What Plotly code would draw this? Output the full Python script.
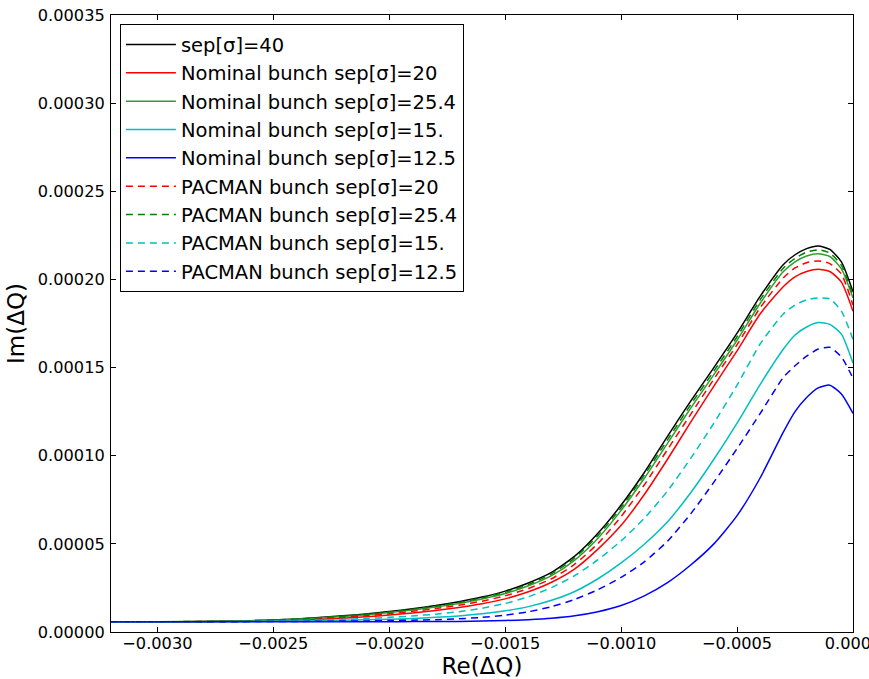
import plotly.graph_objects as go

# x positions (Re(ΔQ))
re_dq = [-0.0032, -0.0030, -0.0028, -0.0026, -0.0024, -0.0022, -0.0021, -0.0020,
         -0.0019, -0.0018, -0.0017, -0.0016, -0.0015, -0.0014, -0.0013, -0.0012,
         -0.0011, -0.0010, -0.0009, -0.0008, -0.0007, -0.0006, -0.0005, -0.0004,
         -0.0003, -0.00025, -0.0002, -0.00015, -0.0001, -0.00005, 0.0]

# Im(ΔQ) values in units of 1e-5
sep40 = [0.58, 0.58, 0.60, 0.64, 0.74, 0.92, 1.02, 1.16, 1.32, 1.50, 1.72, 1.98, 2.32,
         2.78, 3.38, 4.30, 5.60, 7.20, 9.05, 11.1, 13.1, 15.0, 16.95, 19.05, 20.85,
         21.4, 21.75, 21.9, 21.7, 21.0, 19.3]
nom_20 = [0.58, 0.58, 0.59, 0.61, 0.67, 0.78, 0.86, 0.96, 1.08, 1.22, 1.39, 1.60, 1.88,
          2.28, 2.82, 3.58, 4.70, 6.05, 7.80, 9.80, 11.9, 13.95, 15.95, 18.05, 19.6,
          20.15, 20.45, 20.58, 20.45, 19.85, 18.2]
nom_254 = [0.58, 0.58, 0.60, 0.63, 0.72, 0.88, 0.98, 1.10, 1.25, 1.42, 1.62, 1.87, 2.18,
           2.62, 3.20, 4.08, 5.32, 6.90, 8.72, 10.7, 12.7, 14.6, 16.55, 18.65, 20.45,
           21.0, 21.33, 21.45, 21.3, 20.6, 18.95]
nom_15 = [0.58, 0.58, 0.58, 0.60, 0.62, 0.66, 0.69, 0.72, 0.77, 0.83, 0.91, 1.03, 1.20,
          1.44, 1.80, 2.30, 3.02, 3.92, 4.98, 6.25, 7.90, 9.80, 11.85, 14.05, 16.05,
          16.85, 17.3, 17.55, 17.45, 16.9, 15.25]
nom_125 = [0.58, 0.58, 0.58, 0.58, 0.58, 0.58, 0.58, 0.58, 0.59, 0.59, 0.60, 0.62, 0.65,
           0.70, 0.78, 0.92, 1.15, 1.50, 2.05, 2.80, 3.80, 5.00, 6.60, 8.75, 11.35,
           12.5, 13.3, 13.85, 14.0, 13.5, 12.4]
pac_20 = [0.58, 0.58, 0.59, 0.62, 0.69, 0.83, 0.92, 1.03, 1.17, 1.33, 1.52, 1.75, 2.05,
          2.47, 3.02, 3.85, 5.02, 6.55, 8.35, 10.35, 12.35, 14.35, 16.3, 18.4, 20.1,
          20.65, 20.95, 21.05, 20.9, 20.3, 18.55]
pac_254 = [0.58, 0.58, 0.60, 0.64, 0.73, 0.90, 1.00, 1.13, 1.29, 1.46, 1.67, 1.93, 2.26,
           2.70, 3.30, 4.20, 5.47, 7.05, 8.90, 10.9, 12.9, 14.8, 16.75, 18.85, 20.65,
           21.2, 21.55, 21.68, 21.5, 20.8, 19.1]
pac_15 = [0.58, 0.58, 0.59, 0.61, 0.65, 0.72, 0.77, 0.83, 0.91, 1.01, 1.15, 1.35, 1.62,
          2.00, 2.52, 3.20, 4.10, 5.17, 6.45, 8.00, 9.85, 11.85, 14.0, 16.35, 18.05,
          18.55, 18.85, 18.95, 18.9, 18.2, 16.6]
pac_125 = [0.58, 0.58, 0.58, 0.59, 0.60, 0.62, 0.63, 0.65, 0.67, 0.70, 0.75, 0.83, 0.96,
           1.15, 1.44, 1.85, 2.40, 3.10, 3.98, 5.15, 6.70, 8.50, 10.4, 12.4, 14.45,
           15.1, 15.65, 16.05, 16.15, 15.6, 14.4]

labels = ["sep[σ]=40",
          "Nominal bunch sep[σ]=20", "Nominal bunch sep[σ]=25.4",
          "Nominal bunch sep[σ]=15.", "Nominal bunch sep[σ]=12.5",
          "PACMAN bunch sep[σ]=20", "PACMAN bunch sep[σ]=25.4",
          "PACMAN bunch sep[σ]=15.", "PACMAN bunch sep[σ]=12.5"]
series = [sep40, nom_20, nom_254, nom_15, nom_125, pac_20, pac_254, pac_15, pac_125]
colors = ["#000000", "#ff0000", "#2e9e2e", "#00bfbf", "#0000ff",
          "#ff0000", "#008000", "#00bfbf", "#0000ff"]
dashes = ["solid"] * 5 + ["7px,5px"] * 4

fig = go.Figure()
for lab, ys, c, d in zip(labels, series, colors, dashes):
    fig.add_trace(go.Scatter(
        x=re_dq, y=[v * 1e-5 for v in ys], mode="lines", name=lab,
        line=dict(color=c, width=1.5, dash=d, shape="spline", smoothing=0.6)))

axis_common = dict(
    showline=True, linecolor="black", linewidth=1, mirror="ticks",
    ticks="inside", ticklen=5, tickcolor="black", tickwidth=1,
    showgrid=False, zeroline=False, automargin=False,
    tickfont=dict(family="DejaVu Sans", size=16.2, color="black"),
)

fig.update_layout(
    width=869, height=679,
    margin=dict(l=111, r=16, t=15, b=47),
    paper_bgcolor="white", plot_bgcolor="white",
    font=dict(family="DejaVu Sans", color="black"),
    xaxis=dict(range=[-0.0032, 0.0], dtick=0.0005, tick0=0, tickformat=".4f",
               ticklabelstandoff=-3, ticklabeloverflow="allow",
               title=dict(text="Re(ΔQ)", font=dict(size=23), standoff=0),
               **axis_common),
    yaxis=dict(range=[0, 0.00035], dtick=0.00005, tick0=0, tickformat=".5f",
               ticklabelstandoff=2,
               title=dict(text="Im(ΔQ)", font=dict(size=23), standoff=6),
               **axis_common),
    legend=dict(x=0.012, y=0.985, xanchor="left", yanchor="top",
                bgcolor="white", bordercolor="black", borderwidth=1,
                itemwidth=50,
                font=dict(family="DejaVu Sans", size=19.5, color="black")),
    showlegend=True,
)

fig.write_html("out.html")
